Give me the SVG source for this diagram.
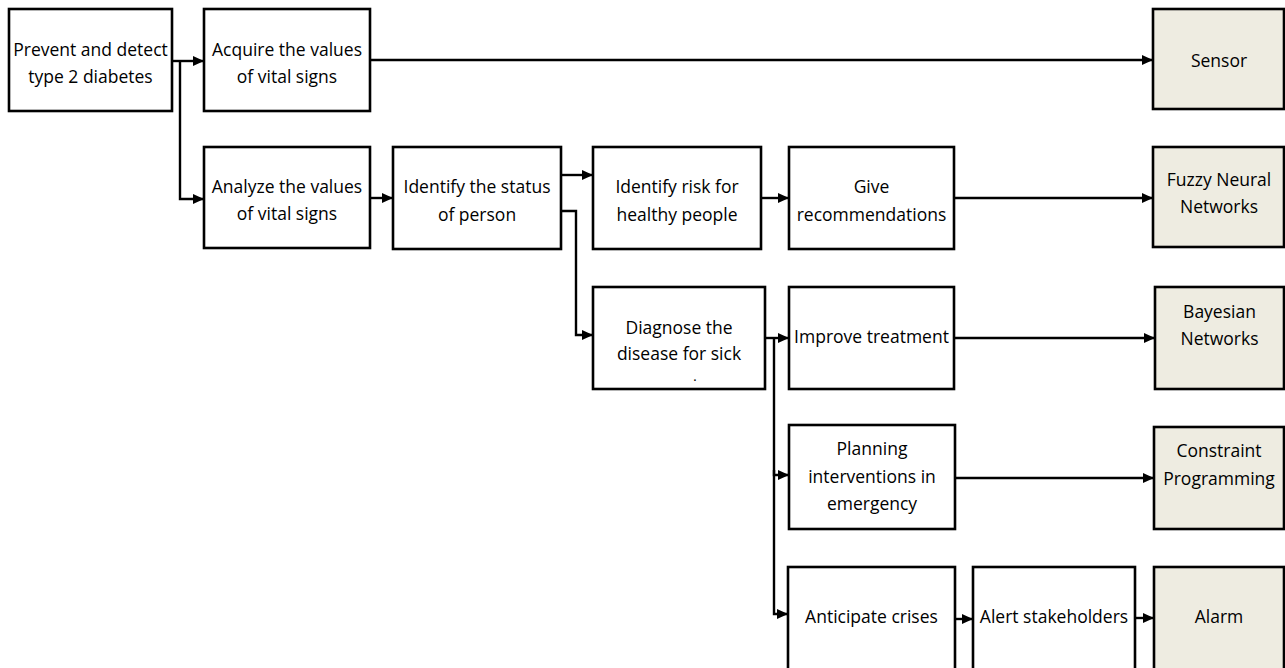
<svg xmlns="http://www.w3.org/2000/svg" width="1285" height="668" viewBox="0 0 1285 668">
<style>
  .box { fill: #ffffff; stroke: #000000; stroke-width: 2.6; }
  .tool { fill: #EEECE1; stroke: #000000; stroke-width: 2.6; }
  .lbl { font-family: "Open Sans", "Liberation Sans", sans-serif; font-size: 17.5px; fill: #000000; text-anchor: middle; }
  .con { fill: none; stroke: #000000; stroke-width: 2.4; }
</style>
<defs>
  <marker id="arr" viewBox="0 0 11 10" refX="11" refY="5" markerWidth="11" markerHeight="10" markerUnits="userSpaceOnUse" orient="auto">
    <path d="M0,0 L11,5 L0,10 Z" fill="#000000"/>
  </marker>
</defs>
<rect width="1285" height="668" fill="#ffffff"/>

<g id="connectors">
  <path class="con" d="M172,61 H204" marker-end="url(#arr)"/>
  <path class="con" d="M180,61 V199 H204" marker-end="url(#arr)"/>
  <path class="con" d="M370,60 H1153" marker-end="url(#arr)"/>
  <path class="con" d="M370,198 H393" marker-end="url(#arr)"/>
  <path class="con" d="M561,175 H593" marker-end="url(#arr)"/>
  <path class="con" d="M561,211 H576 V335 H593" marker-end="url(#arr)"/>
  <path class="con" d="M761,198 H789" marker-end="url(#arr)"/>
  <path class="con" d="M954,198 H1153" marker-end="url(#arr)"/>
  <path class="con" d="M765,338 H789" marker-end="url(#arr)"/>
  <path class="con" d="M774,338 V475 H789" marker-end="url(#arr)"/>
  <path class="con" d="M774,470 V614 H788" marker-end="url(#arr)"/>
  <path class="con" d="M954,338 H1155" marker-end="url(#arr)"/>
  <path class="con" d="M955,478 H1154" marker-end="url(#arr)"/>
  <path class="con" d="M955,619 H973" marker-end="url(#arr)"/>
  <path class="con" d="M1135,618 H1154" marker-end="url(#arr)"/>
</g>

<g id="n-prevent">
  <rect class="box" x="9" y="9" width="163" height="102"/>
  <text class="lbl" x="90.5" y="56">Prevent and detect</text>
  <text class="lbl" x="90.5" y="83">type 2 diabetes</text>
</g>
<g id="n-acquire">
  <rect class="box" x="204" y="9" width="166" height="102"/>
  <text class="lbl" x="287" y="56">Acquire the values</text>
  <text class="lbl" x="287" y="83">of vital signs</text>
</g>
<g id="n-analyze">
  <rect class="box" x="204" y="147" width="166" height="101"/>
  <text class="lbl" x="287" y="193">Analyze the values</text>
  <text class="lbl" x="287" y="220">of vital signs</text>
</g>
<g id="n-status">
  <rect class="box" x="393" y="147" width="168" height="102"/>
  <text class="lbl" x="477" y="193">Identify the status</text>
  <text class="lbl" x="477" y="221">of person</text>
</g>
<g id="n-risk">
  <rect class="box" x="593" y="147" width="168" height="102"/>
  <text class="lbl" x="677" y="193">Identify risk for</text>
  <text class="lbl" x="677" y="221">healthy people</text>
</g>
<g id="n-give">
  <rect class="box" x="789" y="147" width="165" height="102"/>
  <text class="lbl" x="871.5" y="193">Give</text>
  <text class="lbl" x="871.5" y="221">recommendations</text>
</g>
<g id="n-diagnose">
  <rect class="box" x="593" y="287" width="172" height="102"/>
  <text class="lbl" x="679" y="334">Diagnose the</text>
  <text class="lbl" x="679" y="360">disease for sick</text>
  <text class="lbl" x="695" y="381" style="font-size:10px;font-weight:bold">.</text>
</g>
<g id="n-improve">
  <rect class="box" x="789" y="287" width="165" height="102"/>
  <text class="lbl" x="871.5" y="343">Improve treatment</text>
</g>
<g id="n-planning">
  <rect class="box" x="789" y="425" width="166" height="104"/>
  <text class="lbl" x="872" y="455">Planning</text>
  <text class="lbl" x="872" y="483">interventions in</text>
  <text class="lbl" x="872" y="510">emergency</text>
</g>
<g id="n-anticipate">
  <rect class="box" x="788" y="567" width="167" height="115"/>
  <text class="lbl" x="871.5" y="623">Anticipate crises</text>
</g>
<g id="n-alert">
  <rect class="box" x="973" y="567" width="162" height="115"/>
  <text class="lbl" x="1054" y="623">Alert stakeholders</text>
</g>
<g id="n-sensor">
  <rect class="tool" x="1153" y="9" width="131" height="100"/>
  <text class="lbl" x="1219" y="67">Sensor</text>
</g>
<g id="n-fuzzy">
  <rect class="tool" x="1153" y="147" width="131" height="100"/>
  <text class="lbl" x="1219" y="186">Fuzzy Neural</text>
  <text class="lbl" x="1219" y="213">Networks</text>
</g>
<g id="n-bayesian">
  <rect class="tool" x="1155" y="287" width="129" height="102"/>
  <text class="lbl" x="1219.5" y="318">Bayesian</text>
  <text class="lbl" x="1219.5" y="345">Networks</text>
</g>
<g id="n-constraint">
  <rect class="tool" x="1154" y="427" width="130" height="102"/>
  <text class="lbl" x="1219" y="457">Constraint</text>
  <text class="lbl" x="1219" y="485">Programming</text>
</g>
<g id="n-alarm">
  <rect class="tool" x="1154" y="567" width="130" height="115"/>
  <text class="lbl" x="1219" y="623">Alarm</text>
</g>
</svg>
